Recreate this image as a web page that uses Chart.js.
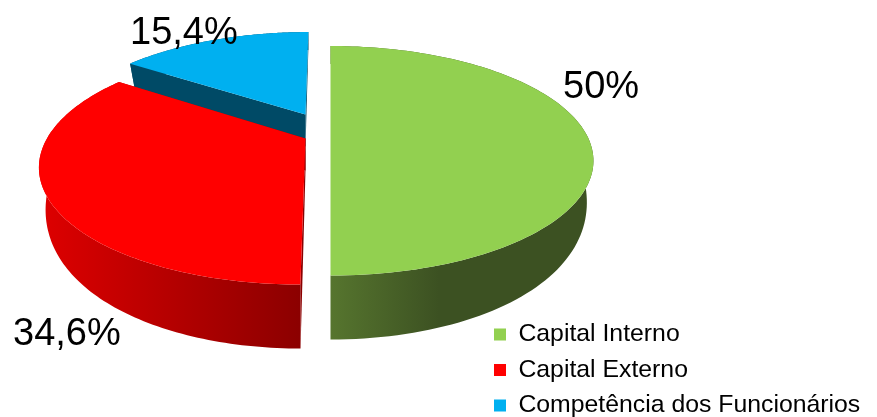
<!DOCTYPE html>
<html>
<head>
<meta charset="utf-8">
<style>
    html, body { margin: 0; background: #fff; }
    canvas { display: block; }
</style>
</head>
<body>
<canvas id="pieChart" width="877" height="417"></canvas>
<script src="https://cdn.jsdelivr.net/npm/chart.js@4"></script>
<script>
const categories = ["Capital Interno", "Capital Externo", "Competência dos Funcionários"];
const shares = [50, 34.6, 15.4];
const topColors = ["#92d050", "#ff0000", "#00b0f0"];

// wall shading per slice, stops run from the apex outwards
const wallStops = [
    [[0, "#56752e"], [0.42, "#3c5122"], [1, "#3c5122"]],
    [[0, "#8a0000"], [1, "#dc0000"]],
    [[0, "#004a66"], [1, "#004a66"]]
];

// camera used to tilt the flat pie into a disc seen from above
const camera = { shiftX: -128, shiftY: -80, stretchX: 1.24, stretchY: 0.54, near: 0.229, lean: 0.025 };
const explode = [[20, 6], [-5, 10], [-5, -14]];
const sliceScale = [[0.99, 0.966], [1, 1], [0.94, 0.9]];
const sliceShear = [0, 0.035, 0.035];
const labelSpots = [[563, 98], [13, 345], [130, 44]];

const drawOrder = [2, 1, 0];
const FONT = '"Liberation Sans", Arial, sans-serif';

function project(arc, i, angle, r) {
    const u = r * Math.cos(angle);
    const v = r * Math.sin(angle);
    const w = 1 / (1 - camera.near * v);
    const px = arc.outerRadius * camera.stretchX * sliceScale[i][0] * u * w;
    const py = arc.outerRadius * camera.stretchY * sliceScale[i][1] * v * w;
    const ax = arc.x + camera.shiftX + explode[i][0];
    const ay = arc.y + camera.shiftY + explode[i][1];
    return { x: ax + px - sliceShear[i] * py, y: ay + py, v, ax, ay };
}

// same point on the lower rim of the disc
function drop(p) {
    const depth = p.v < 0 ? 32 + 14 * p.v : 32 + 45 * p.v - 13 * p.v * p.v;
    return { x: p.x - (p.x - p.ax) * camera.lean, y: p.y + depth };
}

function rim(arc, i) {
    const pts = [];
    const steps = 120;
    for (let s = 0; s <= steps; s++) {
        const a = arc.startAngle + (arc.endAngle - arc.startAngle) * s / steps;
        pts.push(project(arc, i, a, 1));
    }
    return pts;
}

function fillPath(ctx, pts, fill) {
    ctx.beginPath();
    pts.forEach((p, n) => n ? ctx.lineTo(p.x, p.y) : ctx.moveTo(p.x, p.y));
    ctx.closePath();
    ctx.fillStyle = fill;
    ctx.fill();
}

function wallFill(ctx, arc, i) {
    const apex = project(arc, i, 0, 0);
    const mid = (arc.startAngle + arc.endAngle) / 2;
    const reach = arc.outerRadius * camera.stretchX * Math.sign(Math.cos(mid));
    const g = ctx.createLinearGradient(apex.ax, 0, apex.ax + reach, 0);
    wallStops[i].forEach(s => g.addColorStop(s[0], s[1]));
    return g;
}

const tiltedPie = {
    id: "tiltedPie",
    beforeDraw(chart) {
        // legend sits in the lower right corner, over the chart area
        const legend = chart.legend;
        legend.left = 494 - legend.options.labels.padding;
        legend.top = 328 - legend.options.labels.padding - 6;
        legend.bottom = 417 + 60;
    },
    beforeDatasetsDraw(chart) {
        const ctx = chart.ctx;
        const arcs = chart.getDatasetMeta(0).data;
        drawOrder.forEach(i => {
            const arc = arcs[i];
            const pts = rim(arc, i);
            const apex = project(arc, i, 0, 0);
            const fill = wallFill(ctx, arc, i);

            fillPath(ctx, pts.concat(pts.map(drop).reverse()), fill);
            const first = pts[0], last = pts[pts.length - 1];
            fillPath(ctx, [apex, last, drop(last), drop(apex)], fill);
            fillPath(ctx, [apex, first, drop(first), drop(apex)], fill);
            fillPath(ctx, [apex].concat(pts), topColors[i]);
        });

        ctx.save();
        ctx.fillStyle = "#000";
        ctx.font = "38px " + FONT;
        ctx.textBaseline = "alphabetic";
        shares.forEach((v, i) => {
            ctx.fillText(String(v).replace(".", ",") + "%", labelSpots[i][0], labelSpots[i][1]);
        });
        ctx.restore();
        return false; // flat arcs are replaced by the tilted ones
    }
};

new Chart(document.getElementById("pieChart").getContext("2d"), {
    type: "pie",
    data: {
        labels: categories,
        datasets: [{ data: shares, backgroundColor: topColors, borderWidth: 0 }]
    },
    options: {
        responsive: false,
        animation: false,
        events: [],
        plugins: {
            tooltip: { enabled: false },
            legend: {
                position: "chartArea",
                align: "start",
                labels: {
                    boxWidth: 12,
                    boxHeight: 12,
                    padding: 10.7,
                    color: "#000",
                    font: { family: FONT, size: 24.8 }
                }
            }
        }
    },
    plugins: [tiltedPie]
});
</script>
</body>
</html>
